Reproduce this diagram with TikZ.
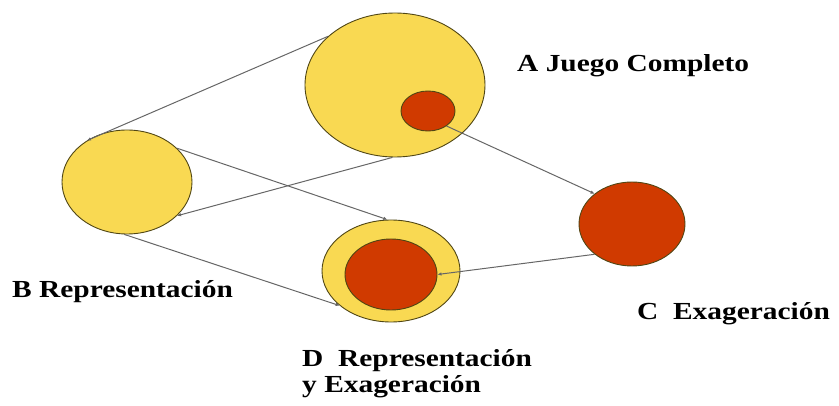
\documentclass[tikz,border=0pt]{standalone}
\usepackage{fontspec}
\setmainfont{Liberation Serif}[FakeStretch=1.2]
\usetikzlibrary{shapes.geometric,arrows.meta}

\definecolor{setyellow}{RGB}{249,217,82}
\definecolor{setred}{RGB}{208,58,0}
\definecolor{setline}{RGB}{80,70,20}

\tikzset{
	set/.style={ellipse, draw=setline, line width=0.9pt, inner sep=0pt},
	game/.style={set, fill=setyellow},
	exag/.style={set, fill=setred},
	link/.style={draw=black!60, line width=1pt, -{Latex[length=4pt,width=3.5pt]}},
	lbl/.style={font=\fontsize{24.5}{26}\selectfont\bfseries, inner sep=0pt, anchor=base west, align=left}
}

\begin{document}
\begin{tikzpicture}[x=1pt,y=-1pt]

\useasboundingbox (0,0) rectangle (839,406);

% conjuntos
\node[game, minimum width=180, minimum height=144] (A) at (395,85) {};
\node[exag, minimum width=54, minimum height=40] (Ain) at (428,111) {};
\node[game, minimum width=130, minimum height=104] (B) at (127,182) {};
\node[exag, minimum width=106, minimum height=84] (C) at (632,224) {};
\node[game, minimum width=138, minimum height=102] (D) at (391,271) {};
\node[exag, minimum width=92, minimum height=71] (Din) at (391,274.5) {};

% textos
\node[lbl] (tA) at (517,72) {A Juego Completo};
\node[lbl] (tB) at (12,298) {B Representación};
\node[lbl] (tC) at (637,320) {C\ \ Exageración};
\node[lbl] (tD) at (302,392) {D\ \ Representación\\y Exageración};

% flechas
\draw[link] (A.144) -- (B.134);
\draw[link] (A.268) -- (B.-34);
\draw[link] (B.34) -- (D.94);
\draw[link] (B.267) -- (D.214);
\draw[link] (Ain.-39) -- (C.141);
\draw[link] (C.219) -- (Din.0);

\end{tikzpicture}
\end{document}
